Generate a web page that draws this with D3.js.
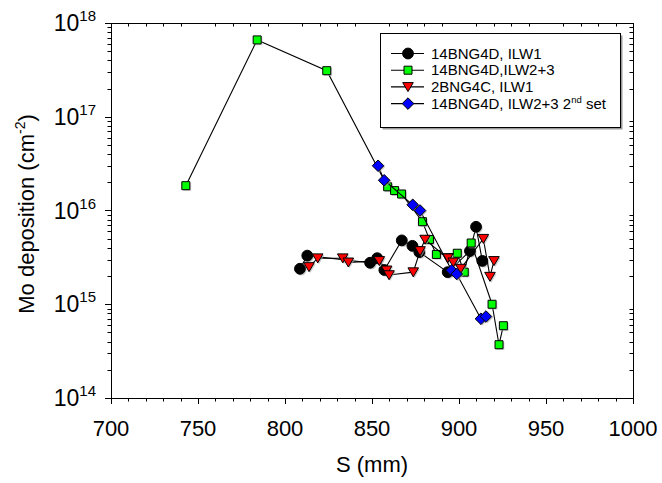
<!DOCTYPE html>
<html>
<head>
<meta charset="utf-8">
<script src="https://cdn.jsdelivr.net/npm/d3@7"></script>
<style>
  body { margin: 0; background: white; }
  svg { font-family: "Liberation Sans", Arial, sans-serif; }
</style>
</head>
<body>
<div id="chart"></div>
<script>
// series data, S in mm, deposition in cm^-2
const blackS = [808.6, 812.8, 848.9, 853, 857.1, 867.1, 873.2, 877.2, 893.5, 906.3, 909.8, 913.4];
const blackMo = [2.39e15, 3.3e15, 2.77e15, 3.1e15, 2.32e15, 4.8e15, 4.2e15, 3.6e15, 2.2e15, 3.7e15, 6.7e15, 2.9e15];

const greenS = [743, 784, 824, 859, 863, 867, 879, 883, 887, 899, 903, 907, 919, 923, 925.5];
const greenMo = [1.84e16, 6.6e17, 3.1e17, 1.79e16, 1.63e16, 1.5e16, 7.6e15, 4.9e15, 3.4e15, 3.5e15, 2.2e15, 4.5e15, 1.0e15, 3.7e14, 5.9e14];

const redS = [813.8, 818.8, 833.2, 836.4, 854.2, 858.4, 859.8, 873.7, 877.6, 880.5, 893.5, 896.7, 901, 914, 917.8, 920.1];
const redMo = [2.5e15, 3.1e15, 3.1e15, 2.8e15, 2.9e15, 2.3e15, 2.05e15, 2.2e15, 3.7e15, 4.9e15, 3.1e15, 2.8e15, 2.4e15, 5.0e15, 1.97e15, 2.9e15];

const blueS = [853.5, 857, 873.4, 877.6, 895.8, 898.7, 912.6, 915.5];
const blueMo = [3.0e16, 2.1e16, 1.15e16, 1.0e16, 2.3e15, 2.1e15, 7.0e14, 7.4e14];

const xTicks = [700, 750, 800, 850, 900, 950, 1000];
const yExps = [14, 15, 16, 17, 18];

const width = 662, height = 483;
const margin = {left: 111, right: 29, top: 23, bottom: 85};

const svg = d3.select("#chart").append("svg")
    .attr("width", width)
    .attr("height", height);

const x = d3.scaleLinear().domain([700, 1000]).range([margin.left, width - margin.right]);
const y = d3.scaleLog().domain([1e14, 1e18]).range([height - margin.bottom, margin.top]);

const x0 = x.range()[0], x1 = x.range()[1], y0 = y.range()[0], y1 = y.range()[1];

// marker shapes
function markerPath(shape) {
    if (shape == "circle") return d3.symbol(d3.symbolCircle, 92)();
    if (shape == "square") return "M-4,-4H4V4H-4Z";
    if (shape == "diamond") return "M0,-5.8L5.8,0L0,5.8L-5.8,0Z";
    if (shape == "triangle") return "M-5.3,-4.3H5.3L0,4.7Z";
}

const series = [
    {name: "14BNG4D, ILW1", s: blackS, mo: blackMo, color: "#000000", shape: "circle"},
    {name: "14BNG4D,ILW2+3", s: greenS, mo: greenMo, color: "#00ff00", shape: "square"},
    {name: "2BNG4C, ILW1", s: redS, mo: redMo, color: "#ff0000", shape: "triangle"},
    {name: "14BNG4D, ILW2+3 2nd set", s: blueS, mo: blueMo, color: "#0000ff", shape: "diamond"}
];

// axes frame ticks
let g = svg.append("g").attr("stroke", "#000").attr("stroke-width", 1);

// bottom / top x ticks
d3.range(700, 1001, 10).forEach(function (v) {
    let major = v % 50 == 0;
    let px = Math.round(x(v)) + 0.5;
    g.append("line").attr("x1", px).attr("x2", px)
        .attr("y1", y0).attr("y2", y0 + (major ? 6 : 3.5));
    if (!major) {
        g.append("line").attr("x1", px).attr("x2", px)
            .attr("y1", y1).attr("y2", y1 + 3.5);
    }
});

// left / right y ticks
yExps.forEach(function (e) {
    let py = Math.round(y(Math.pow(10, e))) + 0.5;
    g.append("line").attr("x1", x0 - 6).attr("x2", x0).attr("y1", py).attr("y2", py);
    if (e < 18) {
        for (let k = 2; k < 10; k++) {
            let my = Math.round(y(k * Math.pow(10, e))) + 0.5;
            g.append("line").attr("x1", x0 - 3.5).attr("x2", x0).attr("y1", my).attr("y2", my);
            g.append("line").attr("x1", x1 - 3.5).attr("x2", x1).attr("y1", my).attr("y2", my);
        }
    }
});

svg.append("rect")
    .attr("x", Math.round(x0) + 0.5).attr("y", Math.round(y1) + 0.5)
    .attr("width", Math.round(x1 - x0)).attr("height", Math.round(y0 - y1))
    .attr("fill", "none").attr("stroke", "#000").attr("stroke-width", 1);

// tick labels
svg.append("g").selectAll("text")
    .data(xTicks).enter().append("text")
    .attr("x", d => x(d))
    .attr("y", y0 + 38)
    .attr("text-anchor", "middle")
    .attr("font-size", 22)
    .text(d => d);

let yl = svg.append("g").selectAll("text")
    .data(yExps).enter().append("text")
    .attr("x", x0 - 15)
    .attr("y", d => y(Math.pow(10, d)) + 8)
    .attr("text-anchor", "end")
    .attr("font-size", 23);
yl.append("tspan").text("10");
yl.append("tspan").attr("font-size", 15).attr("dy", -10).text(d => d);

// axis titles
svg.append("text")
    .attr("x", (x0 + x1) / 2)
    .attr("y", 472)
    .attr("text-anchor", "middle")
    .attr("font-size", 22)
    .text("S (mm)");

let yt = svg.append("text")
    .attr("transform", "translate(34," + 214 + ") rotate(-90)")
    .attr("text-anchor", "middle")
    .attr("font-size", 22);
yt.append("tspan").text("Mo deposition (cm");
yt.append("tspan").attr("font-size", 14).attr("dy", -9).text("-2");
yt.append("tspan").attr("dy", 9).text(")");

// series
const line = d3.line().x(d => x(d[0])).y(d => y(d[1]));

series.forEach(function (sr) {
    let pts = sr.s.map((v, i) => [v, sr.mo[i]]);
    let sg = svg.append("g");
    sg.append("path")
        .attr("d", line(pts))
        .attr("fill", "none")
        .attr("stroke", "#000")
        .attr("stroke-width", 1.1);
    sg.selectAll(".shadow").data(pts).enter().append("path")
        .attr("transform", d => "translate(" + (x(d[0]) + 1.3) + "," + (y(d[1]) + 1.3) + ")")
        .attr("d", markerPath(sr.shape))
        .attr("fill", "#aaa")
        .attr("opacity", 0.6);
    sg.selectAll(".mark").data(pts).enter().append("path")
        .attr("transform", d => "translate(" + x(d[0]) + "," + y(d[1]) + ")")
        .attr("d", markerPath(sr.shape))
        .attr("fill", sr.color)
        .attr("stroke", "#000")
        .attr("stroke-width", 1);
});

// legend
const lgX = 380, lgY = 33, lgW = 240, lgH = 94;
svg.append("rect")
    .attr("x", lgX + 2.5).attr("y", lgY + 2.5).attr("width", lgW).attr("height", lgH)
    .attr("fill", "#999");
svg.append("rect")
    .attr("x", lgX + 0.5).attr("y", lgY + 0.5).attr("width", lgW).attr("height", lgH)
    .attr("fill", "#fff").attr("stroke", "#000");

series.forEach(function (sr, i) {
    let ly = 53.5 + i * 16.7;
    let lg = svg.append("g");
    lg.append("line").attr("x1", 391).attr("x2", 424).attr("y1", ly).attr("y2", ly)
        .attr("stroke", "#000").attr("stroke-width", 1.1);
    lg.append("path").attr("transform", "translate(408," + ly + ")")
        .attr("d", markerPath(sr.shape))
        .attr("fill", sr.color).attr("stroke", "#000");
    let t = lg.append("text").attr("x", 431).attr("y", ly + 5).attr("font-size", 15);
    if (i == 3) {
        t.append("tspan").text("14BNG4D, ILW2+3 2");
        t.append("tspan").attr("font-size", 9.5).attr("dy", -6).text("nd");
        t.append("tspan").attr("dy", 6).text(" set");
    } else {
        t.text(sr.name);
    }
});
</script>
</body>
</html>
